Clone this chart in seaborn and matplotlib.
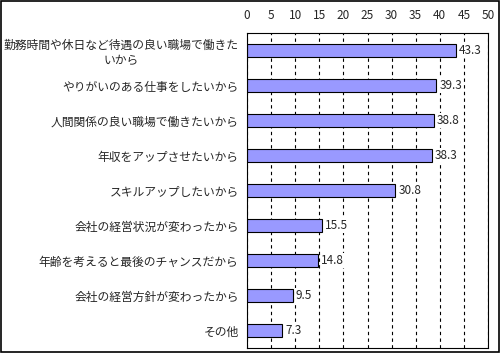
import matplotlib
matplotlib.use("Agg")
import matplotlib.pyplot as plt
import seaborn as sns
import pandas as pd
from matplotlib.patches import Rectangle
from matplotlib.ticker import MultipleLocator, FixedLocator

# === DATA ===
reasons = [
    "勤務時間や休日など待遇の良い職場で働きた\nいから",
    "やりがいのある仕事をしたいから",
    "人間関係の良い職場で働きたいから",
    "年収をアップさせたいから",
    "スキルアップしたいから",
    "会社の経営状況が変わったから",
    "年齢を考えると最後のチャンスだから",
    "会社の経営方針が変わったから",
    "その他",
]
values = [43.3, 39.3, 38.8, 38.3, 30.8, 15.5, 14.8, 9.5, 7.3]

df = pd.DataFrame({"reason": reasons, "value": values})

sns.set_style("white")
plt.rcParams['font.family'] = ['Noto Sans CJK JP', 'DejaVu Sans']

fig = plt.figure(figsize=(5.0, 3.53), dpi=100)
ax = fig.add_axes([0.494, 0.014, 0.482, 0.892])

sns.barplot(data=df, x="value", y="reason", orient="h", color="#9999FF",
            saturation=1, edgecolor="black", linewidth=0.8, width=0.38, ax=ax)

ax.set_xlim(0, 50)
ax.set_ylim(len(reasons) - 0.5, -0.5)
ax.xaxis.tick_top()
ax.xaxis.set_major_locator(MultipleLocator(5))
ax.tick_params(axis='x', length=0, pad=8, labelsize=8.5)
ax.tick_params(axis='y', which='major', length=0, pad=6, labelsize=8.5)
ax.yaxis.set_minor_locator(FixedLocator([i - 0.5 for i in range(1, len(reasons))]))
ax.tick_params(axis='y', which='minor', length=4, width=0.8, color='black', direction='out')
for lbl in ax.get_yticklabels():
    lbl.set_multialignment('center')
ax.set_xlabel("")
ax.set_ylabel("")

ax.xaxis.grid(True, color='black', linestyle=(0, (3, 3)), linewidth=0.8)
ax.set_axisbelow(True)
for s in ax.spines.values():
    s.set_color('black')
    s.set_linewidth(0.8)

for i, v in enumerate(values):
    ax.text(v + 0.6, i, f"{v}", va='center', ha='left', fontsize=8.5,
            bbox=dict(facecolor='white', edgecolor='none', pad=0.5))

fig.patches.append(Rectangle((0.002, 0.003), 0.996, 0.994, transform=fig.transFigure,
                             fill=False, edgecolor='black', linewidth=1.2))

fig.savefig("out.png", dpi=100)
